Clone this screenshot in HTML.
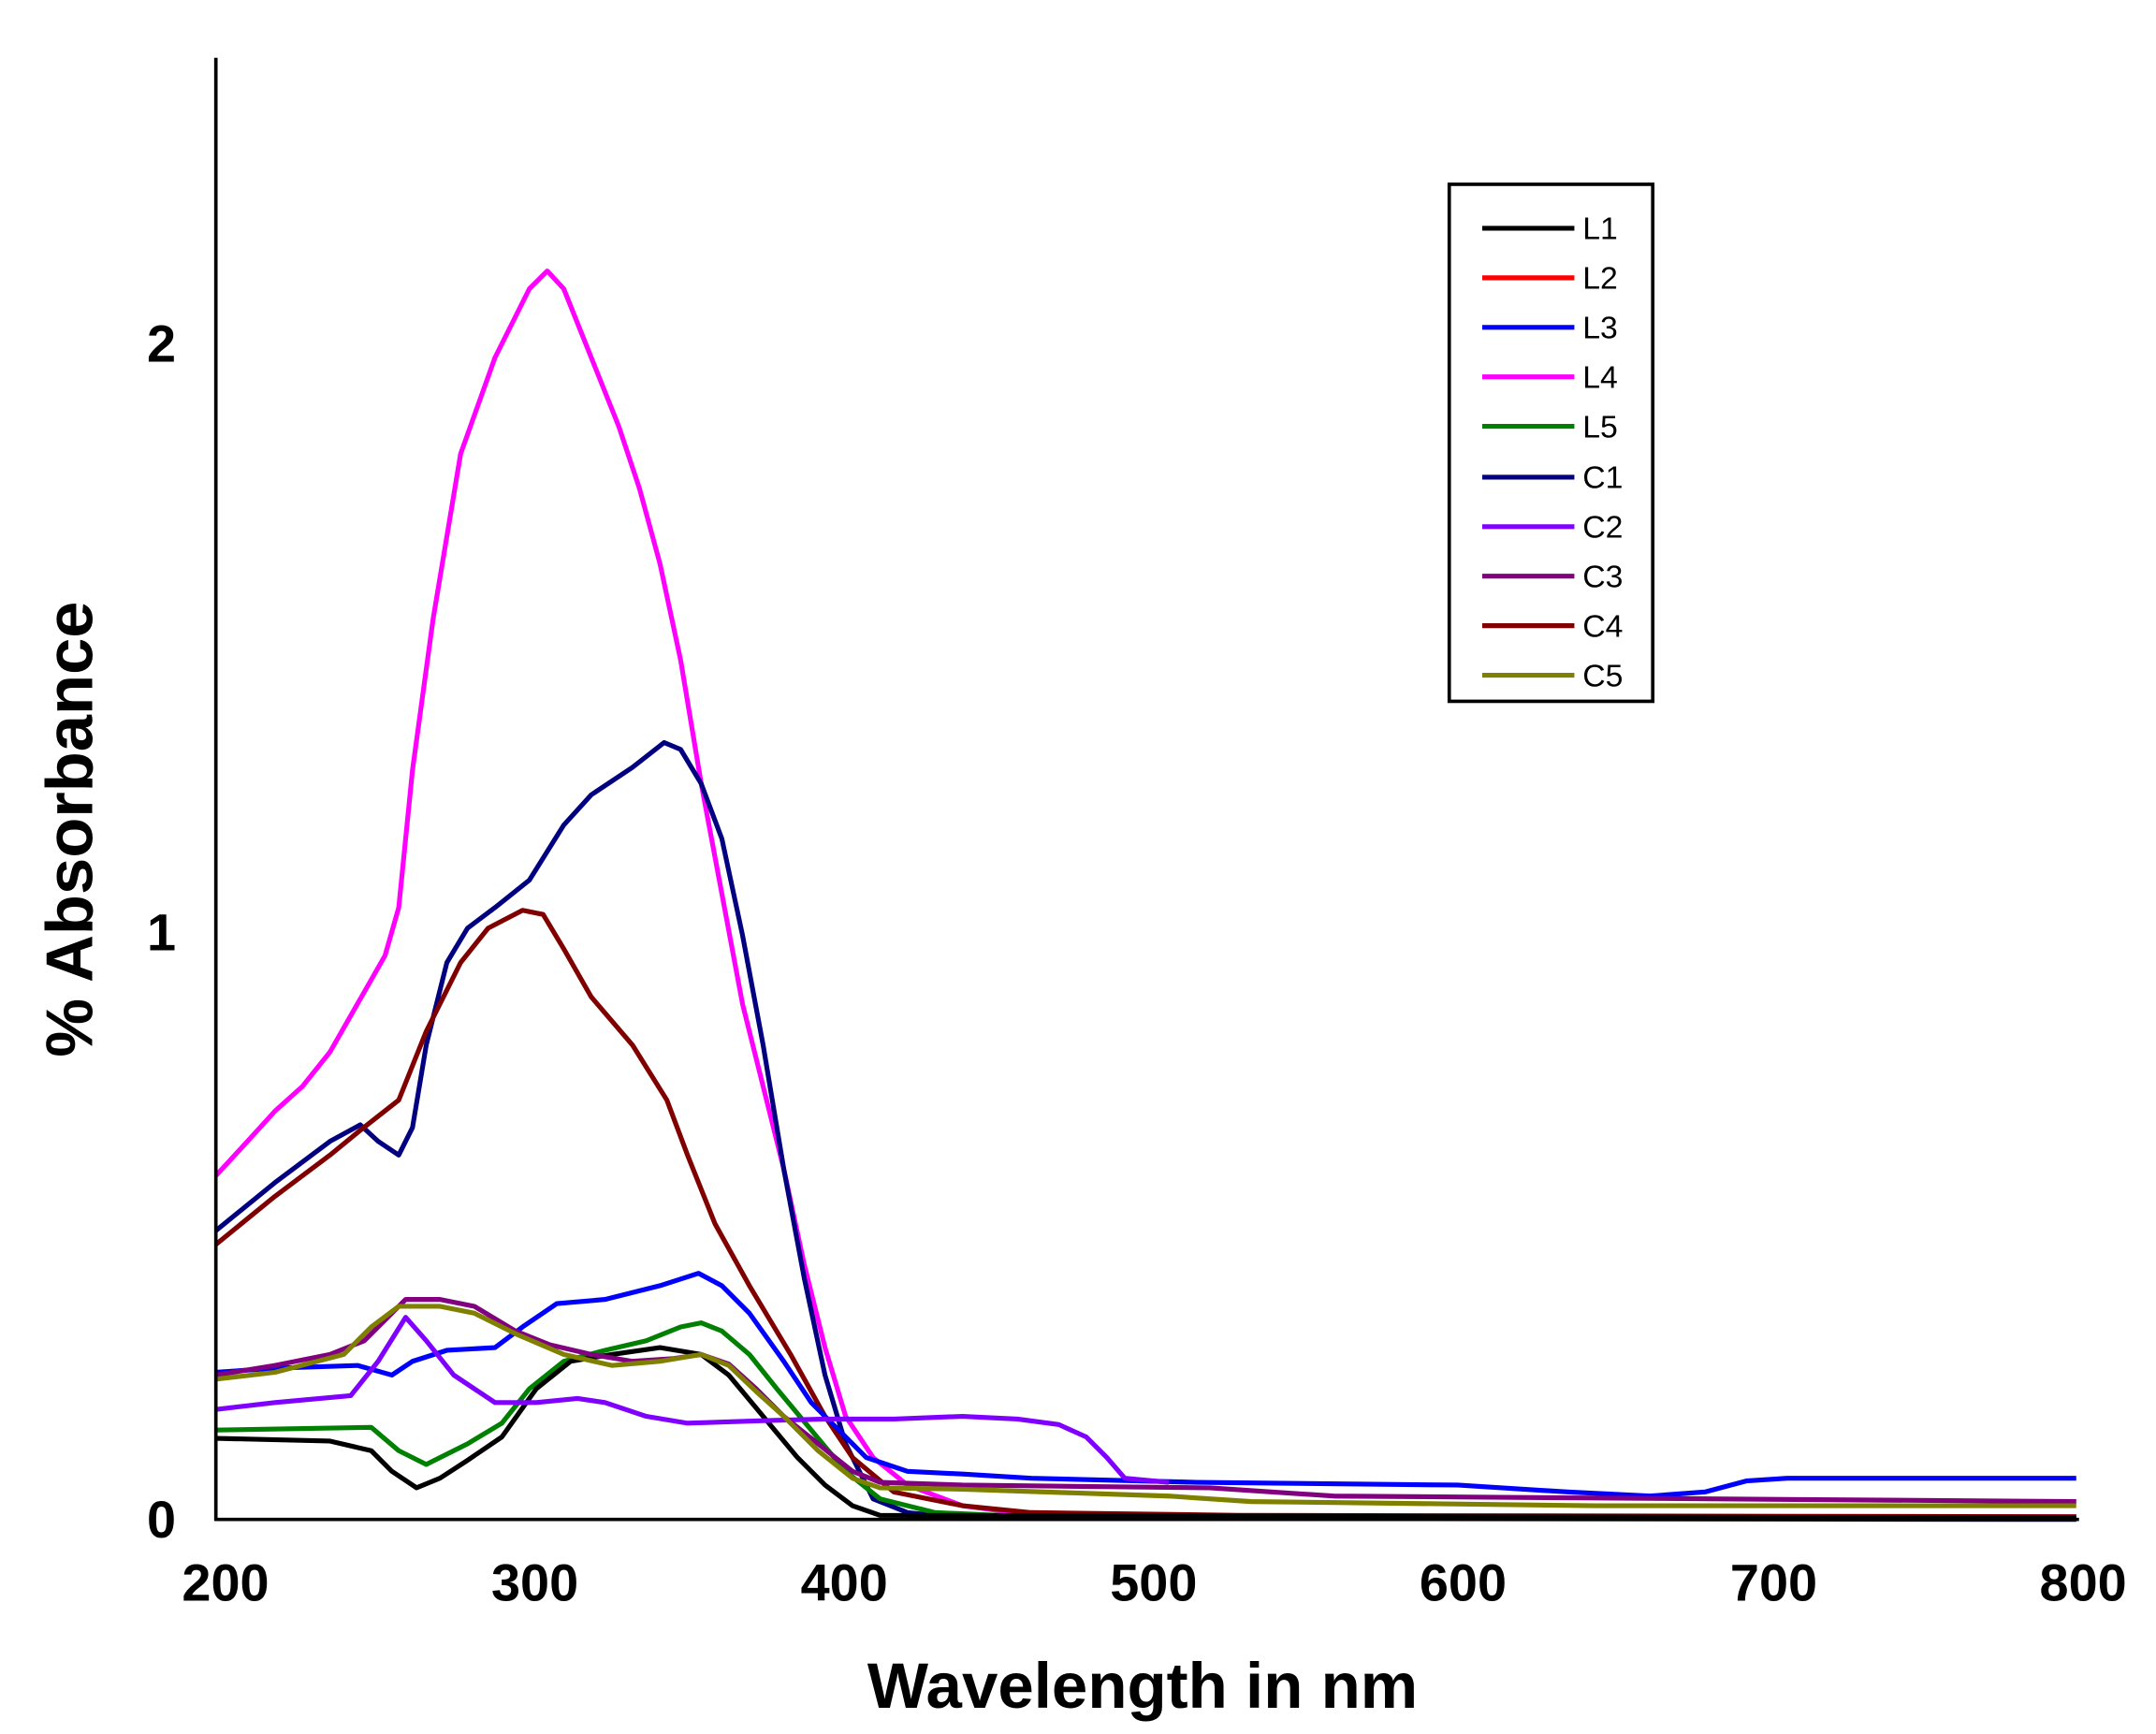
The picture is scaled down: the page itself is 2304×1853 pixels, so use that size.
<!DOCTYPE html>
<html><head><style>html,body{margin:0;padding:0;background:#fff}svg{display:block}</style></head>
<body>
<svg width="2304" height="1853" viewBox="0 0 1568 1261" xmlns="http://www.w3.org/2000/svg" font-family="Liberation Sans, Arial, sans-serif">
<rect width="1568" height="1261" fill="#fff"/>
<g fill="none" stroke-width="3.5" stroke-linejoin="round">
<polyline stroke="#ff00ff" points="157,855 180,830 200,808 220,790 240,765 260,730 280,695 290,660 300,560 315,450 335,330 360,260 385,210 398,197 410,210 430,260 450,310 465,355 480,410 495,480 510,570 525,650 540,730 555,790 570,850 585,920 600,980 615,1030 635,1060 660,1080 700,1095 760,1103 1510,1103"/>
<polyline stroke="#000080" points="157,895 200,860 240,830 262,818 275,830 290,840 300,820 310,760 325,700 340,675 360,660 385,640 410,600 430,578 460,558 483,540 495,545 510,570 525,610 540,680 555,760 570,850 585,930 600,1000 615,1050 635,1090 660,1100 700,1104 1510,1105"/>
<polyline stroke="#800000" points="157,905 200,870 240,840 262,822 290,800 310,750 335,700 355,675 380,662 395,665 410,690 430,725 460,760 485,800 500,840 520,890 545,935 575,985 600,1030 620,1060 650,1085 700,1095 750,1100 900,1102 1510,1103"/>
<polyline stroke="#0000ff" points="157,998 200,995 260,993 285,1000 300,990 325,982 360,980 380,965 405,948 440,945 480,935 508,926 525,935 545,955 570,990 590,1020 610,1040 630,1060 660,1070 700,1072 750,1075 870,1078 1060,1080 1140,1085 1200,1088 1240,1085 1270,1077 1300,1075 1510,1075"/>
<polyline stroke="#008000" points="157,1040 270,1038 290,1055 310,1065 340,1050 365,1035 385,1010 410,990 440,982 470,975 495,965 510,962 525,968 545,985 565,1010 590,1040 615,1070 640,1090 680,1100 750,1103 1510,1104"/>
<polyline stroke="#000000" points="157,1046 240,1048 270,1055 285,1070 303,1082 320,1075 340,1062 365,1045 390,1010 415,990 445,985 480,980 510,985 530,1000 555,1030 580,1060 600,1080 620,1095 640,1102 1510,1104"/>
<polyline stroke="#8000ff" points="157,1025 200,1020 255,1015 275,990 295,958 310,975 330,1000 360,1020 390,1020 420,1017 440,1020 470,1030 500,1035 560,1033 600,1032 650,1032 700,1030 740,1032 770,1036 790,1045 805,1060 818,1075 850,1078"/>
<polyline stroke="#800080" points="157,1000 200,993 240,985 265,975 280,960 295,945 320,945 345,950 375,968 400,978 430,985 460,990 490,988 510,985 530,992 550,1010 570,1030 595,1050 620,1070 640,1078 700,1080 880,1082 970,1088 1510,1092"/>
<polyline stroke="#808000" points="157,1003 200,998 250,985 270,965 290,950 320,950 345,955 375,970 410,985 445,993 480,990 510,985 530,993 550,1012 570,1030 595,1055 620,1075 640,1082 700,1083 850,1088 910,1092 1160,1095 1510,1095"/>
</g>
<line x1="157" y1="42" x2="157" y2="1106" stroke="#000" stroke-width="2.5"/>
<line x1="156" y1="1105" x2="1512" y2="1105" stroke="#000" stroke-width="2.5"/>
<g font-weight="bold" font-size="38" fill="#000">
<text x="128" y="1118" text-anchor="end">0</text>
<text x="128" y="691" text-anchor="end">1</text>
<text x="128" y="263" text-anchor="end">2</text>
<g text-anchor="middle">
<text x="164" y="1164">200</text><text x="389" y="1164">300</text><text x="614" y="1164">400</text>
<text x="839" y="1164">500</text><text x="1064" y="1164">600</text><text x="1290" y="1164">700</text><text x="1515" y="1164">800</text>
</g>
<text x="831" y="1242" text-anchor="middle" font-size="47">Wavelength in nm</text>
<text transform="translate(67,603) rotate(-90)" text-anchor="middle" font-size="48">% Absorbance</text>
</g>
<rect x="1054" y="134" width="148" height="376" fill="#fff" stroke="#000" stroke-width="2.5"/>
<g stroke-width="3.5">
<line x1="1078" y1="166" x2="1145" y2="166" stroke="#000000"/>
<line x1="1078" y1="202" x2="1145" y2="202" stroke="#ff0000"/>
<line x1="1078" y1="238" x2="1145" y2="238" stroke="#0000ff"/>
<line x1="1078" y1="274" x2="1145" y2="274" stroke="#ff00ff"/>
<line x1="1078" y1="310" x2="1145" y2="310" stroke="#008000"/>
<line x1="1078" y1="347" x2="1145" y2="347" stroke="#000080"/>
<line x1="1078" y1="383" x2="1145" y2="383" stroke="#8000ff"/>
<line x1="1078" y1="419" x2="1145" y2="419" stroke="#800080"/>
<line x1="1078" y1="455" x2="1145" y2="455" stroke="#800000"/>
<line x1="1078" y1="491" x2="1145" y2="491" stroke="#808000"/>
</g>
<g font-size="23" fill="#000">
<text x="1151" y="174">L1</text><text x="1151" y="210">L2</text><text x="1151" y="246">L3</text>
<text x="1151" y="282">L4</text><text x="1151" y="318">L5</text><text x="1151" y="355">C1</text>
<text x="1151" y="391">C2</text><text x="1151" y="427">C3</text><text x="1151" y="463">C4</text><text x="1151" y="499">C5</text>
</g>
</svg>
</body></html>
